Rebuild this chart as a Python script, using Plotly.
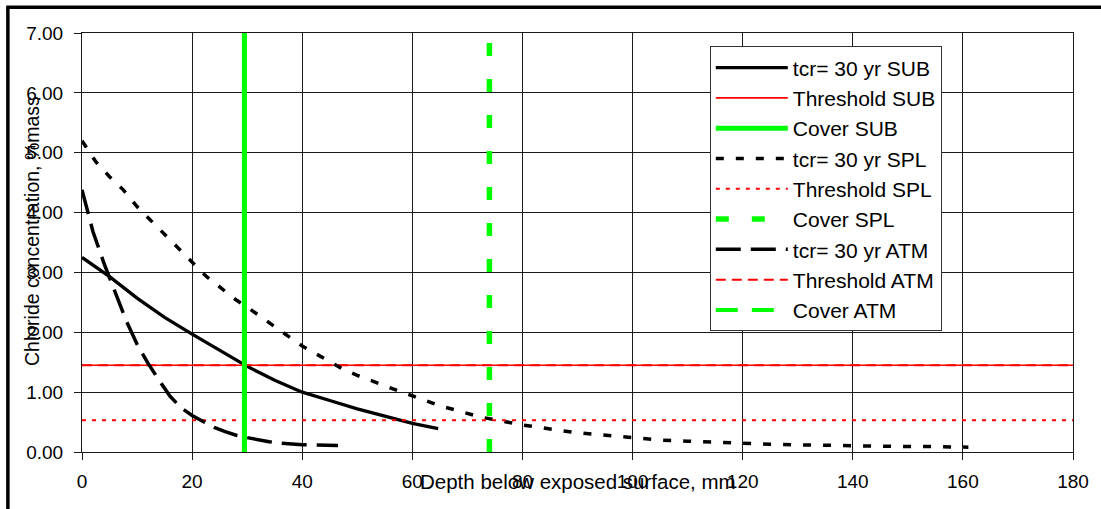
import plotly.graph_objects as go

# ---- data ----
sub_x = [0, 5, 10, 15, 20, 25, 30, 35, 40, 45, 50, 55, 60, 64.7]
sub_y = [3.25, 2.93, 2.57, 2.25, 1.97, 1.70, 1.43, 1.20, 1.00, 0.86, 0.72, 0.60, 0.48, 0.39]

spl_x = [0, 2.5, 5, 7.5, 10, 12.5, 15, 17.5, 20, 22.5, 25, 27.5, 30, 32.5, 35, 37.5, 40, 42.5,
         45, 47.5, 50, 52.5, 55, 57.5, 60, 62.5, 65, 67.5, 70, 72.5, 75, 77.5, 80, 82.5, 85,
         87.5, 90, 95, 100, 105, 110, 115, 120, 125, 130, 135, 140, 145, 150, 155, 161]
spl_y = [5.2, 4.85, 4.6, 4.38, 4.1, 3.87, 3.62, 3.41, 3.18, 2.94, 2.76, 2.57, 2.42, 2.26, 2.10,
         1.94, 1.77, 1.64, 1.51, 1.38, 1.28, 1.19, 1.10, 1.02, 0.94, 0.86, 0.77, 0.71, 0.64,
         0.58, 0.54, 0.49, 0.45, 0.42, 0.38, 0.35, 0.32, 0.28, 0.23, 0.20, 0.18, 0.16, 0.15,
         0.13, 0.12, 0.11, 0.10, 0.10, 0.09, 0.09, 0.08]

atm_x = [0, 2, 4, 6, 8, 10, 12, 14, 16, 18, 20, 22, 24, 26, 28, 30, 32, 34, 36, 38, 40, 42, 44, 46.5]
atm_y = [4.38, 3.68, 3.15, 2.68, 2.20, 1.80, 1.48, 1.20, 0.93, 0.74, 0.61, 0.51, 0.41, 0.34,
         0.28, 0.24, 0.20, 0.17, 0.15, 0.13, 0.12, 0.12, 0.11, 0.11]

threshold_sub = 1.45
threshold_spl = 0.53
threshold_atm = 1.45
cover_sub = 29.5
cover_spl = 74.0
cover_atm = 29.5

x_range = [0, 180]
y_range = [0, 7]
x_ticks = [0, 20, 40, 60, 80, 100, 120, 140, 160, 180]
y_ticks = [0, 1, 2, 3, 4, 5, 6, 7]

FONT = "Liberation Sans, Arial, sans-serif"

fig = go.Figure()

def add(name, x, y, color, width, dash, rank):
    fig.add_trace(go.Scatter(
        x=x, y=y, mode="lines", name=name, legendrank=rank, legendgroup=name,
        line=dict(color=color, width=width, dash=dash)))

# traces hidden underneath others are drawn first
add("Threshold ATM", x_range, [threshold_atm, threshold_atm], "#ff0000", 2, "10px,6px", 8)
add("Cover ATM", [cover_atm, cover_atm], y_range, "#00ff00", 4, "22px,14px", 9)
add("tcr= 30 yr SUB", sub_x, sub_y, "black", 3.3, "solid", 1)
add("Threshold SUB", x_range, [threshold_sub, threshold_sub], "#ff0000", 1.6, "solid", 2)
add("tcr= 30 yr SPL", spl_x, spl_y, "black", 3.5, "8px,12px", 4)
add("Threshold SPL", x_range, [threshold_spl, threshold_spl], "#ff0000", 2, "4px,6px", 5)
add("tcr= 30 yr ATM", atm_x, atm_y, "black", 3.5, "25px,10px", 7)
add("Cover SUB", [cover_sub, cover_sub], y_range, "#00ff00", 5, "solid", 3)
add("Cover SPL", [cover_spl, cover_spl], y_range, "#00ff00", 5.5, "13px,23px", 6)

axis_common = dict(
    showgrid=True, gridcolor="#1a1a1a", gridwidth=1,
    showline=True, linecolor="#1a1a1a", linewidth=1, mirror=True,
    ticks="outside", ticklen=7, tickcolor="#1a1a1a",
    zeroline=False,
    tickfont=dict(family=FONT, size=19, color="black"),
)

fig.update_xaxes(range=x_range, tickvals=x_ticks, ticktext=[str(v) for v in x_ticks],
                 ticklabelstandoff=5, **axis_common)
fig.update_yaxes(range=y_range, tickvals=y_ticks, ticktext=[f"{v:.2f}" for v in y_ticks],
                 ticklabelstandoff=7, **axis_common)

fig.update_layout(
    width=1101, height=509, autosize=False,
    margin=dict(l=82, r=23, t=33, b=57, pad=0),
    paper_bgcolor="white", plot_bgcolor="white",
    font=dict(family=FONT, color="black"),
    showlegend=True,
    legend=dict(
        x=0.6335, y=0.968, xanchor="left", yanchor="top",
        bgcolor="white", bordercolor="#333333", borderwidth=1,
        font=dict(family=FONT, size=21, color="black"),
        itemwidth=72, tracegroupgap=7, traceorder="normal",
        entrywidth=160, entrywidthmode="pixels",
    ),
    annotations=[
        dict(text="Chloride concentration, %mass", xref="paper", yref="paper",
             x=-0.0502, y=0.528, textangle=-90, showarrow=False,
             xanchor="center", yanchor="middle",
             font=dict(family=FONT, size=19.5, color="black")),
        dict(text="Depth below exposed surface, mm", xref="paper", yref="paper",
             x=0.5, y=-0.0709, showarrow=False, xanchor="center", yanchor="middle",
             font=dict(family=FONT, size=20.5, color="black")),
    ],
    shapes=[
        dict(type="line", xref="paper", yref="paper", x0=-0.0748, x1=-0.0748,
             y0=1.0616, y1=-0.3, line=dict(color="black", width=3.5)),
        dict(type="line", xref="paper", yref="paper", x0=-0.0765, x1=1.2,
             y0=1.0616, y1=1.0616, line=dict(color="black", width=3.5)),
    ],
)

fig.write_html("out.html", config={"displayModeBar": False},
               post_script="document.body.style.margin='0';document.body.style.overflow='hidden';")
